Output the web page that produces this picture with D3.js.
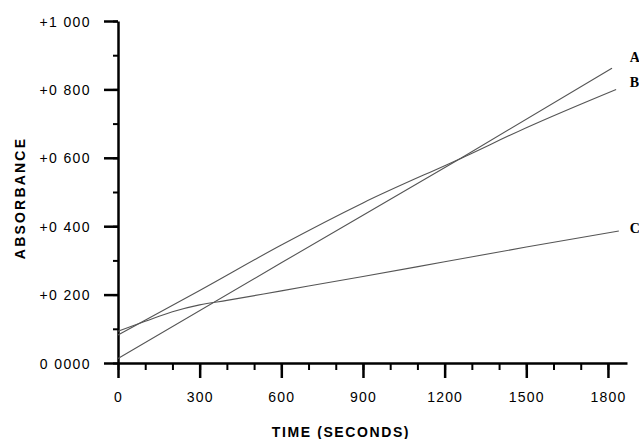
<!DOCTYPE html>
<html>
<head>
<meta charset="utf-8">
<script src="https://cdn.jsdelivr.net/npm/d3@7"></script>
<style>
  body { margin: 0; background: #fff; }
  svg { display: block; }
  .axis path, .axis line { stroke: #000; }
  .axis text { font-family: "Liberation Sans", Arial, sans-serif; font-size: 14px; fill: #000; }
</style>
</head>
<body>
<script>
// Data (time in seconds, absorbance)
const lineA = [[0, 0.013], [600, 0.293], [1275, 0.606], [1815, 0.862]];
const lineB = [[0, 0.082], [300, 0.212], [600, 0.345], [900, 0.468], [1275, 0.604], [1500, 0.688], [1830, 0.800]];
const lineC = [[0, 0.093], [100, 0.122], [200, 0.150], [300, 0.170], [400, 0.183], [600, 0.211], [900, 0.253], [1200, 0.296], [1500, 0.339], [1840, 0.386]];
const seriesNames = ['A', 'B', 'C'];
const labelY = [0.895, 0.822, 0.395];

const xTicks = [0, 300, 600, 900, 1200, 1500, 1800];
const xMinor = d3.range(0, 1801, 100);
const yTicks = [0, 0.2, 0.4, 0.6, 0.8, 1.0];
const yTickLabels = ['0 0000', '+0 200', '+0 400', '+0 600', '+0 800', '+1 000'];
const yMinor = d3.range(0, 1.01, 0.1);

const width = 639, height = 439;
const svg = d3.select('body').append('svg')
  .attr('width', width)
  .attr('height', height);

const x = d3.scaleLinear().domain([0, 1870]).range([118, 627]);
const y = d3.scaleLinear().domain([0, 1]).range([363, 21]);

// minor ticks first (no labels)
svg.append('g').attr('class', 'axis')
  .attr('transform', `translate(0,${y(0)})`)
  .call(d3.axisBottom(x).tickValues(xMinor).tickSize(7).tickSizeOuter(0).tickFormat(''))
  .call(g => g.select('.domain').remove())
  .selectAll('line').attr('stroke-width', 2);

svg.append('g').attr('class', 'axis')
  .attr('transform', `translate(${x(0)},0)`)
  .call(d3.axisLeft(y).tickValues(yMinor).tickSize(5).tickSizeOuter(0).tickFormat(''))
  .call(g => g.select('.domain').remove())
  .selectAll('line').attr('stroke-width', 2);

// major x axis
const gx = svg.append('g').attr('class', 'axis')
  .attr('transform', `translate(0,${y(0)})`)
  .call(d3.axisBottom(x).tickValues(xTicks).tickSize(15).tickSizeOuter(0).tickPadding(14)
    .tickFormat(d3.format('d')));
gx.select('.domain').attr('stroke-width', 2.5);
gx.selectAll('line').attr('stroke-width', 2.5);
gx.selectAll('text').attr('letter-spacing', 1.2);

// major y axis
const gy = svg.append('g').attr('class', 'axis')
  .attr('transform', `translate(${x(0)},0)`)
  .call(d3.axisLeft(y).tickValues(yTicks).tickSize(14).tickSizeOuter(0).tickPadding(13)
    .tickFormat((d, i) => yTickLabels[i]));
gy.select('.domain').attr('stroke-width', 2.5);
gy.selectAll('line').attr('stroke-width', 2.5);
gy.selectAll('text').attr('letter-spacing', 1.4).attr('dy', '0.36em');

// curves
const line = d3.line().x(d => x(d[0])).y(d => y(d[1])).curve(d3.curveMonotoneX);
const allLines = [lineA, lineB, lineC];
svg.append('g').selectAll('path').data(allLines).join('path')
  .attr('d', line)
  .attr('fill', 'none')
  .attr('stroke', '#555')
  .attr('stroke-width', 1.1);

// series letters
svg.append('g').selectAll('text').data(seriesNames).join('text')
  .attr('x', x(1880))
  .attr('y', (d, i) => y(labelY[i]))
  .attr('dy', '0.35em')
  .attr('font-family', '"Liberation Serif", "Times New Roman", serif')
  .attr('font-weight', 'bold')
  .attr('font-size', 14)
  .text(d => d);

// axis titles
svg.append('text')
  .attr('x', 341).attr('y', 437)
  .attr('text-anchor', 'middle')
  .attr('font-family', '"Liberation Sans", Arial, sans-serif')
  .attr('font-weight', 'bold')
  .attr('font-size', 14)
  .attr('letter-spacing', 1.6)
  .text('TIME (SECONDS)');

svg.append('text')
  .attr('transform', 'translate(25,198) rotate(-90)')
  .attr('text-anchor', 'middle')
  .attr('font-family', '"Liberation Sans", Arial, sans-serif')
  .attr('font-weight', 'bold')
  .attr('font-size', 14)
  .attr('letter-spacing', 2.2)
  .text('ABSORBANCE');
</script>
</body>
</html>
